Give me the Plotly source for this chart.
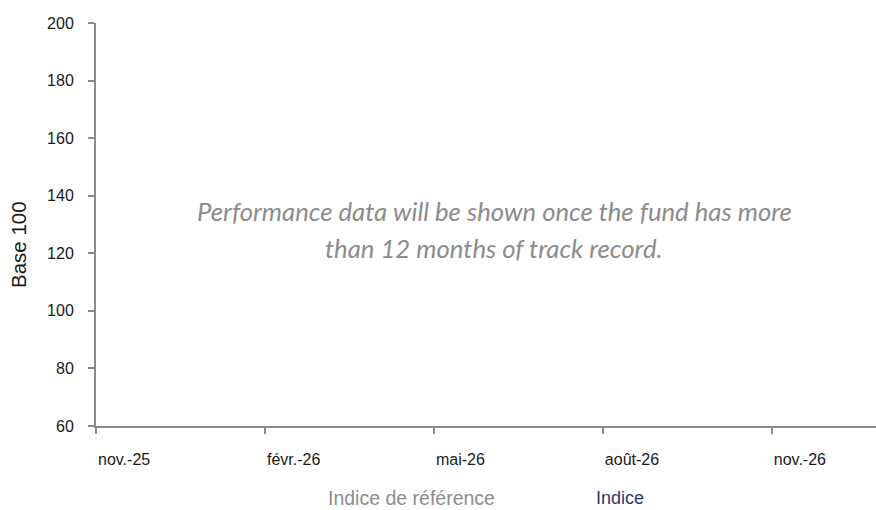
import plotly.graph_objects as go

# ---- data ----
months = ["nov.-25", "déc.-25", "janv.-26", "févr.-26", "mars-26", "avr.-26",
          "mai-26", "juin-26", "juil.-26", "août-26", "sept.-26", "oct.-26",
          "nov.-26", "déc.-26"]
tick_labels = ["nov.-25", "févr.-26", "mai-26", "août-26", "nov.-26"]
indice_reference = [None] * len(months)   # no data yet
indice = [None] * len(months)             # no data yet
series_names = ["Indice de référence", "Indice"]
series_colors = ["#8c8c8c", "#1f3a70"]
y_ticks = [60, 80, 100, 120, 140, 160, 180, 200]
y_title = "Base 100"
message_lines = ["Performance data will be shown once the fund has more",
                 "than 12 months of track record."]

x_idx = list(range(len(months)))
tick_idx = [months.index(t) for t in tick_labels]

W, H = 876, 510
L, R, T, B = 96, 0, 23, 84
PW, PH = W - L - R, H - T - B


def px_x(px):
    return (px - L) / PW


def px_y(py):
    return (H - B - py) / PH


fig = go.Figure()
for name, vals, col in zip(series_names, [indice_reference, indice], series_colors):
    fig.add_trace(go.Scatter(x=x_idx, y=vals, mode="lines", name=name,
                             line=dict(color=col, width=2), showlegend=False,
                             hoverinfo="skip"))

axis_col = "#8a8a8a"
tick_font = dict(family="Liberation Sans, Arial, sans-serif", size=16, color="#1a1a1a")

fig.update_layout(
    width=W, height=H,
    margin=dict(l=L, r=R, t=T, b=B, pad=0),
    paper_bgcolor="white", plot_bgcolor="white",
    showlegend=False,
    xaxis=dict(
        range=[0, 13.85], tickvals=tick_idx, ticktext=tick_labels,
        showgrid=False, zeroline=False, showline=True, linecolor=axis_col, linewidth=2,
        ticks="outside", ticklen=6, tickwidth=2, tickcolor=axis_col,
        ticklabelposition="outside right", tickfont=tick_font, ticklabelstandoff=18,
    ),
    yaxis=dict(
        range=[60, 200], tickvals=y_ticks,
        showgrid=False, zeroline=False, showline=True, linecolor=axis_col, linewidth=2,
        ticks="outside", ticklen=6, tickwidth=2, tickcolor=axis_col,
        tickfont=tick_font, ticklabelstandoff=11,
    ),
)

# y-axis title (placed as in the reference, slightly below the axis centre)
fig.add_annotation(xref="paper", yref="paper", x=px_x(18), y=px_y(245),
                   text=y_title, showarrow=False, textangle=-90,
                   xanchor="center", yanchor="middle",
                   font=dict(family="Liberation Sans, Arial, sans-serif", size=20.5,
                             color="#1a1a1a"))

for line, cy in zip(message_lines, [211, 248]):
    fig.add_annotation(xref="paper", yref="paper", x=px_x(494.5), y=px_y(cy),
                       text=line, showarrow=False, xanchor="center", yanchor="middle",
                       font=dict(family="Lato, Open Sans, sans-serif", size=25.7,
                                 color="#8c8c8c", style="italic"))

legend_x = [411, 620]
legend_sizes = [19.5, 18]
legend_y = [498, 498]
for name, col, px, sz, py in zip(series_names, series_colors, legend_x, legend_sizes, legend_y):
    fig.add_annotation(xref="paper", yref="paper", x=px_x(px), y=px_y(py),
                       text=name, showarrow=False, xanchor="center", yanchor="middle",
                       font=dict(family="Liberation Sans, Arial, sans-serif", size=sz, color=col))

fig.write_html("out.html", config={"displayModeBar": False},
               post_script="document.body.style.margin='0';document.body.style.overflow='hidden';")
